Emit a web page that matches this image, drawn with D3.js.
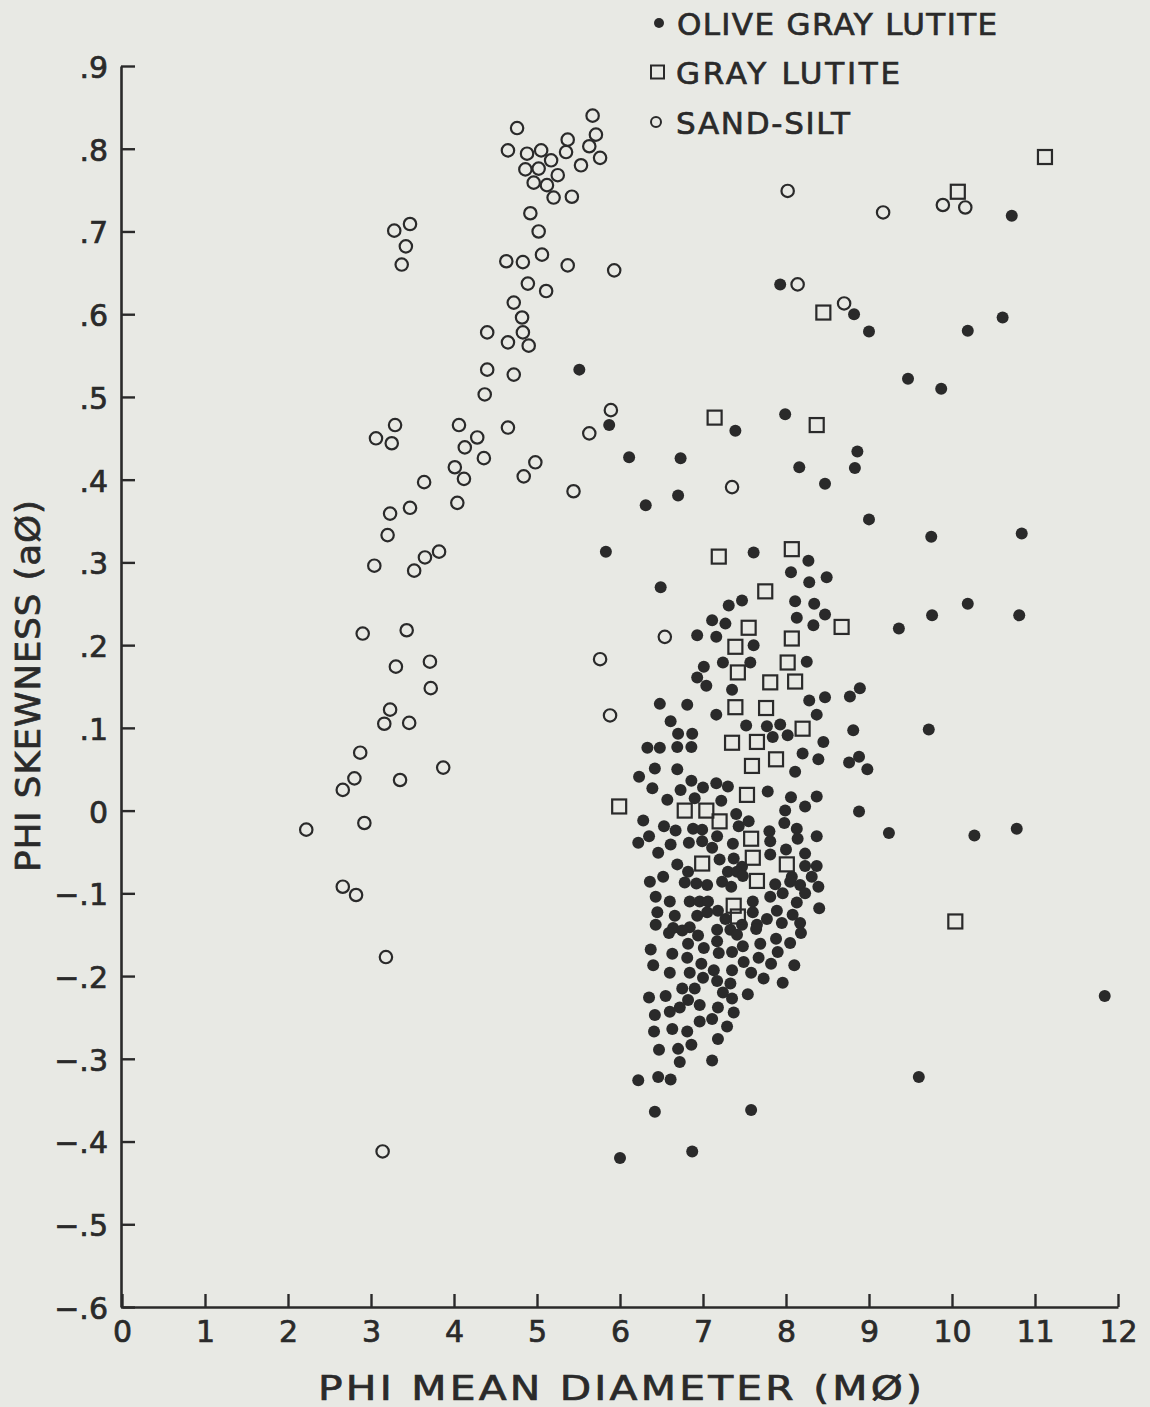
<!DOCTYPE html>
<html>
<head>
<meta charset="utf-8">
<script src="https://cdn.jsdelivr.net/npm/d3@7/dist/d3.min.js"></script>
<style>
  html, body { margin: 0; padding: 0; background: #e8e9e4; }
  svg { display: block; }
  text { font-family: "DejaVu Sans", sans-serif; fill: #2a2a2a; stroke: #2a2a2a; stroke-width: 0.7px; }
</style>
</head>
<body>
<svg id="chart" width="1150" height="1407"></svg>
<script>
// ---------------- DATA ----------------
const xTicks = [0,1,2,3,4,5,6,7,8,9,10,11,12];
const xTickLabels = ["0","1","2","3","4","5","6","7","8","9","10","11","12"];
const yTicks = [0.9,0.8,0.7,0.6,0.5,0.4,0.3,0.2,0.1,0,-0.1,-0.2,-0.3,-0.4,-0.5,-0.6];
const yTickLabels = [".9",".8",".7",".6",".5",".4",".3",".2",".1","0","−.1","−.2","−.3","−.4","−.5","−.6"];
const seriesNames = ["OLIVE GRAY LUTITE","GRAY LUTITE","SAND-SILT"];

// Olive gray lutite (filled dots): [phi mean diameter, phi skewness]
const oliveGrayLutite = [
[10.72,0.719],[7.93,0.636],[8.82,0.600],[9.00,0.579],[10.19,0.580],[10.61,0.596],[9.47,0.522],[9.87,0.510],
[7.99,0.479],[5.51,0.533],[5.87,0.466],[6.11,0.427],[6.73,0.426],[7.39,0.459],[8.16,0.415],[8.86,0.434],
[8.83,0.414],[8.47,0.395],[6.31,0.369],[6.70,0.381],[9.00,0.352],[9.75,0.331],[10.84,0.335],[5.83,0.313],
[7.61,0.312],[8.27,0.302],[8.06,0.288],[8.28,0.276],[8.49,0.282],[6.49,0.270],[7.47,0.254],[7.31,0.248],
[8.11,0.253],[8.34,0.250],[8.13,0.233],[8.33,0.224],[8.47,0.237],[7.11,0.230],[7.27,0.226],[6.93,0.212],
[7.16,0.210],[7.61,0.200],[8.25,0.180],[7.24,0.179],[7.57,0.179],[7.01,0.174],[6.93,0.161],[7.04,0.151],
[7.35,0.146],[9.36,0.220],[9.76,0.236],[10.19,0.250],[10.81,0.236],[8.89,0.148],[8.77,0.138],[8.28,0.133],
[8.47,0.137],[8.37,0.116],[8.81,0.097],[9.72,0.098],[8.45,0.083],[8.20,0.069],[8.39,0.062],[8.88,0.065],
[8.76,0.058],[8.98,0.050],[8.37,0.017],[8.23,0.005],[8.88,-0.001],[9.24,-0.027],[10.27,-0.030],[10.78,-0.022],
[8.37,-0.031],[8.23,-0.052],[8.37,-0.067],[8.23,-0.067],[8.31,-0.080],[6.48,0.129],[6.81,0.128],[7.16,0.116],
[6.61,0.108],[6.70,0.093],[6.87,0.093],[7.52,0.103],[7.77,0.102],[7.93,0.104],[7.84,0.089],[8.02,0.091],
[6.33,0.076],[6.48,0.076],[6.69,0.077],[6.86,0.077],[8.11,0.047],[6.42,0.051],[6.69,0.050],[6.23,0.041],
[6.39,0.027],[6.86,0.036],[6.73,0.025],[7.00,0.028],[7.16,0.033],[7.30,0.029],[7.78,0.023],[8.06,0.016],
[6.57,0.013],[6.90,0.015],[7.22,0.012],[7.99,0.000],[7.40,-0.004],[6.28,-0.012],[7.55,-0.013],[7.98,-0.015],
[6.53,-0.019],[7.43,-0.019],[6.67,-0.024],[6.88,-0.022],[6.99,-0.023],[7.80,-0.025],[8.13,-0.022],[6.35,-0.031],
[7.17,-0.031],[8.14,-0.034],[6.22,-0.039],[6.61,-0.041],[6.83,-0.039],[6.99,-0.037],[7.36,-0.040],[7.81,-0.037],
[7.11,-0.045],[7.81,-0.053],[8.00,-0.047],[6.46,-0.051],[7.20,-0.059],[7.37,-0.058],[6.69,-0.065],[7.47,-0.068],
[6.82,-0.074],[7.30,-0.074],[7.41,-0.074],[7.48,-0.079],[8.07,-0.080],[6.52,-0.080],[6.36,-0.086],[6.78,-0.087],
[6.92,-0.088],[7.05,-0.090],[7.23,-0.086],[7.34,-0.092],[7.87,-0.089],[8.05,-0.086],[8.17,-0.090],[8.39,-0.092],
[8.23,-0.100],[6.43,-0.104],[6.60,-0.110],[6.84,-0.110],[6.96,-0.110],[7.06,-0.110],[7.60,-0.110],[7.81,-0.104],
[7.96,-0.100],[8.13,-0.111],[8.40,-0.118],[6.45,-0.123],[6.66,-0.127],[6.93,-0.127],[7.05,-0.123],[7.18,-0.121],
[7.27,-0.131],[7.60,-0.123],[7.77,-0.131],[7.89,-0.121],[8.08,-0.126],[6.43,-0.138],[6.64,-0.142],[6.84,-0.141],
[7.47,-0.138],[7.65,-0.138],[7.95,-0.136],[8.17,-0.136],[6.59,-0.148],[6.75,-0.145],[7.17,-0.144],[7.33,-0.144],
[7.41,-0.150],[7.64,-0.143],[8.18,-0.148],[6.94,-0.151],[6.82,-0.161],[7.01,-0.166],[7.17,-0.158],[7.48,-0.164],
[7.69,-0.161],[7.88,-0.155],[8.05,-0.160],[6.37,-0.168],[6.63,-0.173],[6.81,-0.178],[7.19,-0.172],[7.35,-0.171],
[7.67,-0.178],[7.90,-0.171],[7.49,-0.183],[7.82,-0.185],[8.10,-0.187],[6.40,-0.187],[6.60,-0.196],[6.84,-0.196],
[6.98,-0.185],[7.13,-0.193],[7.35,-0.193],[7.58,-0.196],[7.00,-0.202],[7.17,-0.206],[7.33,-0.209],[7.73,-0.203],
[7.96,-0.208],[6.75,-0.215],[6.90,-0.215],[7.24,-0.220],[7.54,-0.222],[6.35,-0.226],[6.55,-0.224],[6.82,-0.229],
[7.35,-0.227],[6.96,-0.235],[6.72,-0.238],[6.60,-0.243],[7.18,-0.238],[7.37,-0.244],[6.42,-0.247],[7.11,-0.252],
[6.96,-0.255],[7.29,-0.261],[6.41,-0.267],[6.63,-0.264],[6.81,-0.267],[7.18,-0.276],[6.86,-0.283],[6.47,-0.289],
[6.70,-0.288],[6.72,-0.304],[7.11,-0.302],[6.22,-0.326],[6.46,-0.322],[6.61,-0.325],[11.84,-0.224],[9.60,-0.322],
[7.58,-0.362],[6.42,-0.364],[6.00,-0.420],[6.87,-0.412]
];

// Gray lutite (open squares)
const grayLutite = [
[11.12,0.790],[10.07,0.748],[8.45,0.602],[8.37,0.466],[7.14,0.475],[7.19,0.307],[8.07,0.316],[8.67,0.222],
[10.04,-0.134],[7.75,0.265],[7.55,0.221],[8.07,0.208],[7.39,0.198],[8.02,0.179],[7.42,0.167],[7.81,0.155],
[8.11,0.156],[7.39,0.125],[7.76,0.124],[8.20,0.099],[7.35,0.082],[7.65,0.083],[7.88,0.062],[7.59,0.054],
[5.99,0.005],[7.53,0.019],[6.78,0.000],[7.04,0.000],[7.20,-0.013],[7.58,-0.034],[7.60,-0.057],[6.99,-0.064],
[8.01,-0.065],[7.65,-0.085],[7.37,-0.115],[7.42,-0.128]
];

// Sand-silt (open circles)
const sandSilt = [
[5.67,0.840],[4.76,0.825],[4.65,0.798],[4.88,0.794],[5.05,0.798],[5.37,0.811],[5.71,0.817],[5.63,0.803],
[5.35,0.796],[5.76,0.789],[5.17,0.786],[5.53,0.780],[4.86,0.775],[5.02,0.776],[5.25,0.768],[4.96,0.759],
[5.12,0.756],[5.20,0.741],[5.42,0.742],[4.92,0.722],[5.02,0.700],[3.47,0.709],[3.28,0.701],[3.42,0.682],
[3.37,0.660],[5.06,0.672],[4.63,0.664],[4.83,0.663],[5.37,0.659],[5.93,0.653],[4.89,0.637],[5.11,0.628],
[4.72,0.614],[4.82,0.596],[4.40,0.578],[4.83,0.578],[4.65,0.566],[4.90,0.562],[4.40,0.533],[4.72,0.527],
[4.37,0.503],[5.89,0.484],[5.63,0.456],[3.29,0.466],[3.06,0.450],[3.25,0.444],[4.06,0.466],[4.28,0.451],
[4.13,0.439],[4.65,0.463],[4.36,0.426],[4.01,0.415],[4.12,0.401],[4.98,0.421],[4.84,0.404],[5.44,0.386],
[3.64,0.397],[4.04,0.372],[3.47,0.366],[3.23,0.359],[3.20,0.333],[3.04,0.296],[3.65,0.306],[3.82,0.313],
[3.52,0.290],[2.90,0.214],[3.43,0.218],[3.30,0.174],[3.71,0.180],[3.72,0.148],[3.23,0.122],[3.16,0.105],
[3.46,0.106],[2.87,0.070],[3.87,0.052],[2.80,0.039],[2.66,0.025],[3.35,0.037],[2.92,-0.015],[2.22,-0.023],
[2.66,-0.092],[2.82,-0.102],[3.18,-0.177],[3.14,-0.412],[5.76,0.183],[5.88,0.115],[6.54,0.210],[7.35,0.391],
[8.02,0.749],[9.17,0.723],[9.89,0.732],[10.16,0.729],[8.14,0.636],[8.70,0.613]
];

// ---------------- DRAW ----------------
const ink = "#2a2a2a";
const svg = d3.select("#chart");
svg.append("rect").attr("width",1150).attr("height",1407).attr("fill","#e8e9e4");

const x = d3.scaleLinear().domain([0,12]).range([122,1118]);
const y = d3.scaleLinear().domain([-0.6,0.9]).range([1307,66]);

// axes
const xAxis = d3.axisBottom(x).tickValues(xTicks)
  .tickFormat((d,i) => xTickLabels[i]).tickSizeInner(-13).tickSizeOuter(0).tickPadding(14);
const yAxis = d3.axisLeft(y).tickValues(yTicks)
  .tickFormat((d,i) => yTickLabels[i]).tickSizeInner(-14).tickSizeOuter(0).tickPadding(13);

const gx = svg.append("g").attr("transform","translate(0,1307)").call(xAxis);
const gy = svg.append("g").attr("transform","translate(121,0)").call(yAxis);
[gx,gy].forEach(g => {
  g.select(".domain").attr("stroke",ink).attr("stroke-width",2.6);
  g.selectAll(".tick line").attr("stroke",ink).attr("stroke-width",2.4);
  g.selectAll(".tick text").attr("fill",ink).style("font-size","30px")
    .style("font-family","'DejaVu Sans', sans-serif");
});
gy.selectAll(".tick text").attr("dy","0.38em");

// marks
const plot = svg.append("g");
plot.selectAll("circle.olive").data(oliveGrayLutite).enter().append("circle")
  .attr("class","olive").attr("cx",d=>x(d[0])).attr("cy",d=>y(d[1])).attr("r",6)
  .attr("fill",ink);
const sq = 14;
plot.selectAll("rect.gray").data(grayLutite).enter().append("rect")
  .attr("class","gray").attr("x",d=>x(d[0])-sq/2).attr("y",d=>y(d[1])-sq/2)
  .attr("width",sq).attr("height",sq).attr("fill","none").attr("stroke",ink).attr("stroke-width",2.2);
plot.selectAll("circle.sand").data(sandSilt).enter().append("circle")
  .attr("class","sand").attr("cx",d=>x(d[0])).attr("cy",d=>y(d[1])).attr("r",6.2)
  .attr("fill","none").attr("stroke",ink).attr("stroke-width",2.2);

// horizontally stretched lettering helper
function wideText(parent, tx, ty, rot, sx, width, size, str) {
  parent.append("text")
    .attr("transform", `translate(${tx},${ty}) rotate(${rot}) scale(${sx},1)`)
    .attr("textLength", width / sx).attr("lengthAdjust","spacing")
    .style("font-size", size + "px").text(str);
}

// legend
const leg = svg.append("g");
const legRows = [
  {cy:23, tx:677, tl:320},
  {cy:72, tx:676, tl:224},
  {cy:122, tx:676, tl:174}
];
leg.append("circle").attr("cx",659).attr("cy",legRows[0].cy).attr("r",5).attr("fill",ink);
leg.append("rect").attr("x",651).attr("y",legRows[1].cy-6.5).attr("width",13).attr("height",13)
  .attr("fill","none").attr("stroke",ink).attr("stroke-width",2);
leg.append("circle").attr("cx",656).attr("cy",legRows[2].cy).attr("r",5).attr("fill","none")
  .attr("stroke",ink).attr("stroke-width",2);
seriesNames.forEach((n,i) => {
  wideText(leg, legRows[i].tx, legRows[i].cy + 11.5, 0, 1.0, legRows[i].tl, 31, n);
});

// axis titles
wideText(svg, 318, 1400, 0, 1.2, 604, 34, "PHI MEAN DIAMETER (MØ)");
wideText(svg, 40, 872, -90, 1.05, 372, 34, "PHI SKEWNESS (aØ)");
</script>
</body>
</html>
